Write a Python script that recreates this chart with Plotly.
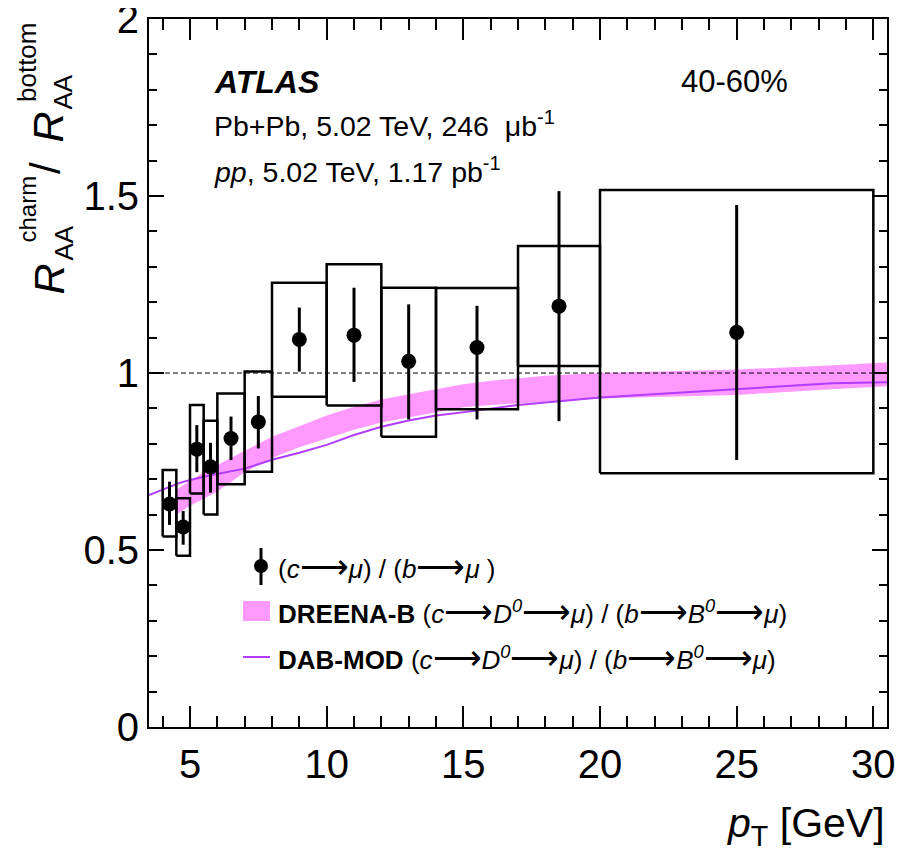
import plotly.graph_objects as go

# ---------------- data ----------------
pt_x    = [4.25, 4.75, 5.25, 5.75, 6.5, 7.5, 9.0, 11.0, 13.0, 15.5, 18.5, 25.0]
ratio   = [0.630, 0.565, 0.785, 0.735, 0.815, 0.862, 1.095, 1.107, 1.033, 1.072, 1.189, 1.115]
stat_hi = [0.693, 0.610, 0.853, 0.803, 0.877, 0.935, 1.185, 1.241, 1.194, 1.190, 1.514, 1.475]
stat_lo = [0.571, 0.515, 0.720, 0.662, 0.754, 0.787, 1.004, 0.975, 0.869, 0.869, 0.864, 0.754]
bin_lo  = [4.0, 4.5, 5.0, 5.5, 6.0, 7.0, 8.0, 10.0, 12.0, 14.0, 17.0, 20.0]
bin_hi  = [4.5, 5.0, 5.5, 6.0, 7.0, 8.0, 10.0, 12.0, 14.0, 17.0, 20.0, 30.0]
sys_hi  = [0.726, 0.646, 0.910, 0.865, 0.942, 1.004, 1.255, 1.307, 1.241, 1.240, 1.359, 1.517]
sys_lo  = [0.538, 0.484, 0.660, 0.600, 0.686, 0.721, 0.933, 0.908, 0.820, 0.898, 1.020, 0.717]

band_x  = [4.5, 5.0, 5.5, 6.0, 7.0, 8.0, 9.0, 10.0, 11.0, 12.0, 13.0, 14.0, 15.0, 16.0, 17.0, 18.0, 20.0, 22.0, 25.0, 28.0, 30.5]
band_hi = [0.670, 0.695, 0.720, 0.740, 0.780, 0.820, 0.850, 0.880, 0.905, 0.925, 0.940, 0.955, 0.968, 0.978, 0.985, 0.992, 1.000, 1.004, 1.010, 1.020, 1.030]
band_lo = [0.600, 0.625, 0.645, 0.665, 0.720, 0.760, 0.790, 0.815, 0.840, 0.860, 0.875, 0.890, 0.903, 0.910, 0.915, 0.920, 0.928, 0.932, 0.938, 0.952, 0.963]

dab_x = [3.5, 4.0, 4.6, 5.0, 5.8, 7.0, 8.0, 9.0, 10.0, 11.0, 12.0, 13.0, 14.0, 15.2, 17.0, 20.0, 22.0, 25.0, 28.5, 30.5]
dab_y = [0.655, 0.670, 0.689, 0.698, 0.712, 0.730, 0.755, 0.775, 0.797, 0.825, 0.848, 0.866, 0.880, 0.891, 0.910, 0.931, 0.940, 0.954, 0.971, 0.974]

x_ticks = [5, 10, 15, 20, 25, 30]
y_ticks = [0, 0.5, 1, 1.5, 2]
y_tick_text = ["0", "0.5", "1", "1.5", "2"]

FONT = "Liberation Sans, Arial, Helvetica, sans-serif"
PINK = "#ff99ff"
VIOLET = "#b23cff"

# page body has an 8px default margin -> shrink the figure accordingly
OFF = 8
W, H = 903 - OFF, 856 - OFF
L, R, T, B = 149, 887, 19, 727   # plot frame in window pixels

def px(x):
    return (x - L) / (R - L)

def py(y):
    return (B - y) / (B - T)

fig = go.Figure()

# DREENA-B band
fig.add_trace(go.Scatter(x=band_x, y=band_lo, mode="lines", line=dict(width=0, color=PINK),
                         showlegend=False, hoverinfo="skip"))
fig.add_trace(go.Scatter(x=band_x, y=band_hi, mode="lines", line=dict(width=0, color=PINK),
                         fill="tonexty", fillcolor=PINK, showlegend=False, hoverinfo="skip"))
# DAB-MOD line
fig.add_trace(go.Scatter(x=dab_x, y=dab_y, mode="lines", line=dict(width=2, color=VIOLET),
                         showlegend=False, hoverinfo="skip"))

# systematic boxes
bx, by = [], []
for x0, x1, y0, y1 in zip(bin_lo, bin_hi, sys_lo, sys_hi):
    bx += [x0, x1, x1, x0, x0, None]
    by += [y0, y0, y1, y1, y0, None]
fig.add_trace(go.Scatter(x=bx, y=by, mode="lines", line=dict(width=2.5, color="black"),
                         showlegend=False, hoverinfo="skip"))

# data points with statistical errors
fig.add_trace(go.Scatter(
    x=pt_x, y=ratio, mode="markers",
    marker=dict(size=15, color="black"),
    error_y=dict(type="data", symmetric=False,
                 array=[h - v for h, v in zip(stat_hi, ratio)],
                 arrayminus=[v - l for l, v in zip(stat_lo, ratio)],
                 color="black", thickness=3, width=0),
    showlegend=False))

shapes = []
# reference line at 1
shapes.append(dict(type="line", xref="paper", yref="y", x0=0, x1=1, y0=1, y1=1,
                   line=dict(color="black", width=1, dash="5px,3px"), layer="above"))

# legend symbols (paper coords)
shapes.append(dict(type="line", xref="paper", yref="paper", x0=px(261), x1=px(261), y0=py(548), y1=py(585),
                   line=dict(color="black", width=3)))
shapes.append(dict(type="circle", xref="paper", yref="paper", x0=px(254), x1=px(268), y0=py(559), y1=py(573),
                   fillcolor="black", line=dict(color="black", width=0)))
shapes.append(dict(type="rect", xref="paper", yref="paper", x0=px(243), x1=px(270), y0=py(601), y1=py(621),
                   fillcolor=PINK, line=dict(width=0)))
shapes.append(dict(type="line", xref="paper", yref="paper", x0=px(243), x1=px(270), y0=py(657), y1=py(657),
                   line=dict(color=VIOLET, width=2)))

ann = []
def text(x, y, s, size, xa="left", ya="middle", angle=0):
    ann.append(dict(x=px(x), y=py(y), xref="paper", yref="paper", text=s, showarrow=False,
                    xanchor=xa, yanchor=ya, textangle=angle,
                    font=dict(family=FONT, size=size, color="black")))

text(212, 82, "<b><i>ATLAS</i></b>", 32)
text(790, 82, "40-60%", 31, xa="right")
text(212, 124, "Pb+Pb, 5.02 TeV, 246  μb<sup>-1</sup>", 28.5)
text(212, 170, "<i>pp</i>, 5.02 TeV, 1.17 pb<sup>-1</sup>", 28.5)

ARW = "<span style='font-size:34px'>⟶</span>"
text(276, 566, f"(<i>c</i>{ARW}<i>μ</i>) / (<i>b</i>{ARW}<i>μ</i> )", 26)
text(276, 611, f"<b>DREENA-B</b> (<i>c</i>{ARW}<i>D</i><sup><i>0</i></sup>{ARW}<i>μ</i>) / (<i>b</i>{ARW}<i>B</i><sup><i>0</i></sup>{ARW}<i>μ</i>)", 26)
text(276, 657, f"<b>DAB-MOD</b> (<i>c</i>{ARW}<i>D</i><sup><i>0</i></sup>{ARW}<i>μ</i>) / (<i>b</i>{ARW}<i>B</i><sup><i>0</i></sup>{ARW}<i>μ</i>)", 26)

# x-axis title
text(887, 826, "<i>p</i><sub>T</sub> [GeV]", 41, xa="right")

# y-axis title, built from rotated pieces (bottom to top)
text(48, 297, "<i>R</i>", 43, xa="center", ya="bottom", angle=-90)
text(63, 263, "AA", 26, xa="center", ya="bottom", angle=-90)
text(27, 244, "charm", 24, xa="center", ya="bottom", angle=-90)
text(45, 176, "/", 42, xa="center", ya="bottom", angle=-90)
text(48, 145, "<i>R</i>", 43, xa="center", ya="bottom", angle=-90)
text(63, 112, "AA", 26, xa="center", ya="bottom", angle=-90)
text(27, 104, "bottom", 26, xa="center", ya="bottom", angle=-90)

axis_common = dict(showgrid=False, zeroline=False, showline=True, linecolor="black", linewidth=2,
                   mirror="ticks", ticks="inside", tickcolor="black", tickwidth=2, automargin=False,
                   ticklabeloverflow="allow",
                   tickfont=dict(family=FONT, size=40, color="black"))

fig.update_layout(
    width=W, height=H,
    margin=dict(l=L - OFF, r=903 - R, t=T - OFF, b=856 - B),
    paper_bgcolor="white", plot_bgcolor="white",
    showlegend=False,
    shapes=shapes, annotations=ann,
    xaxis=dict(range=[3.5, 30.5], tickvals=x_ticks, ticklen=21, ticklabelstandoff=1,
               minor=dict(dtick=1, tick0=0, ticklen=11, ticks="inside", tickcolor="black", tickwidth=2),
               **axis_common),
    yaxis=dict(range=[0, 2.0002], tickvals=y_ticks, ticktext=y_tick_text, ticklen=15, ticklabelstandoff=0,
               minor=dict(dtick=0.1, tick0=0, ticklen=8, ticks="inside", tickcolor="black", tickwidth=2),
               **axis_common),
)

fig.write_html("out.html")
